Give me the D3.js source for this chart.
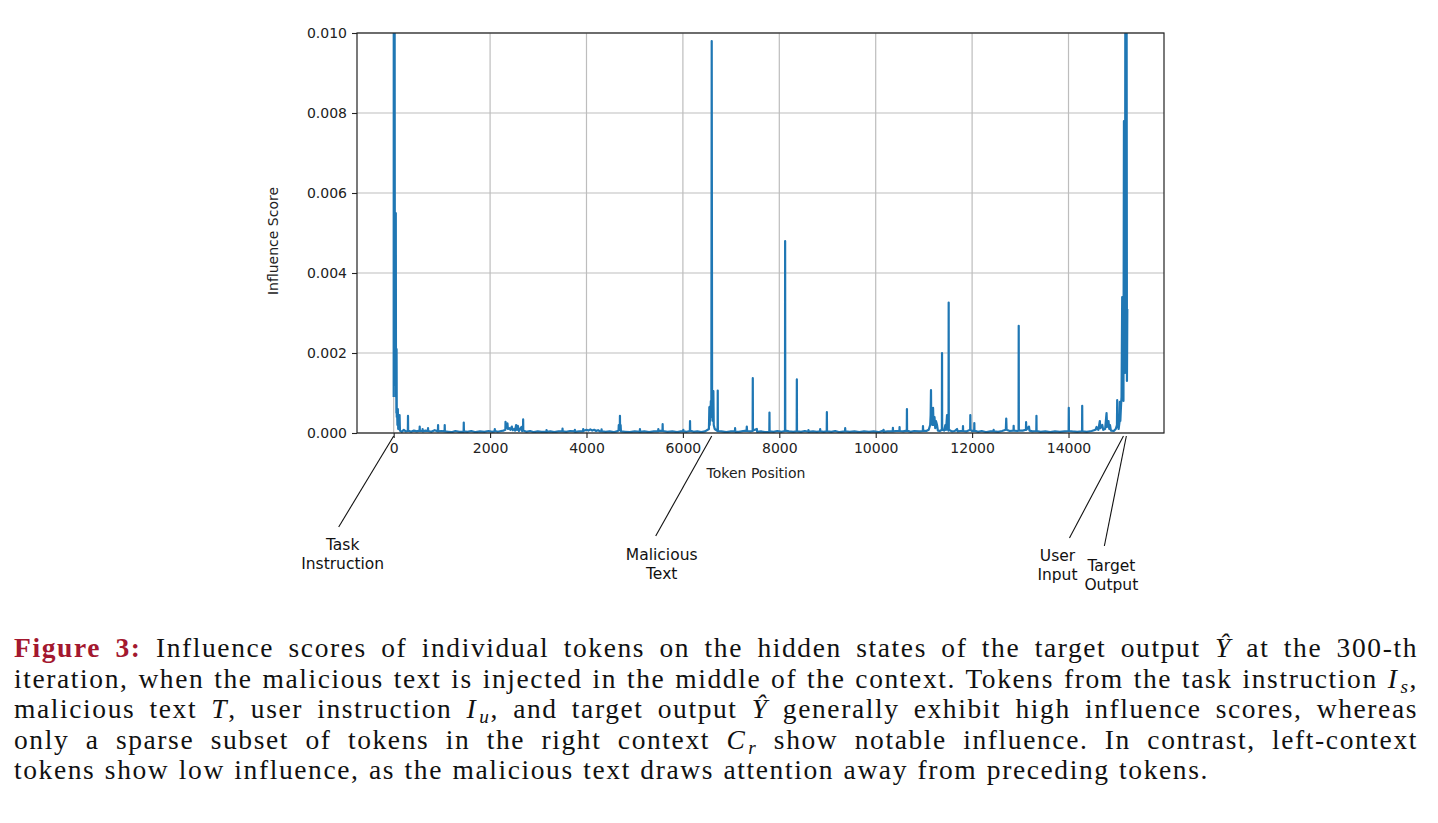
<!DOCTYPE html>
<html>
<head>
<meta charset="utf-8">
<script src="https://cdn.jsdelivr.net/npm/d3@7"></script>
<style>
  body { margin: 0; background: #fff; }
  #d3 { position: relative; width: 1438px; height: 823px; overflow: hidden; }
  #caption {
    position: absolute; left: 14px; top: 633px; width: 1404px;
    font-family: "Liberation Serif", "Times New Roman", serif;
    font-size: 27.5px; letter-spacing: 1.6px; word-spacing: 1px; color: #111;
  }
  #caption .line {
    height: 30.5px; line-height: 30.5px; white-space: nowrap;
    text-align: justify; text-align-last: justify;
  }
  #caption .line.last { text-align-last: left; }
  #caption .fig { color: #a3182f; font-weight: bold; }
  #caption .sub { font-size: 0.7em; font-style: italic; position: relative; top: 0.28em; margin-left: 2px; }
</style>
</head>
<body>
<div id="d3">
  <div id="caption">
    <div class="line"><span class="fig">Figure 3:</span> Influence scores of individual tokens on the hidden states of the target output <i>Ŷ</i> at the 300-th</div>
    <div class="line">iteration, when the malicious text is injected in the middle of the context. Tokens from the task instruction <i>I</i><span class="sub">s</span>,</div>
    <div class="line">malicious text <i>T</i>, user instruction <i>I</i><span class="sub">u</span>, and target output <i>Ŷ</i> generally exhibit high influence scores, whereas</div>
    <div class="line">only a sparse subset of tokens in the right context <i>C</i><span class="sub">r</span> show notable influence. In contrast, left-context</div>
    <div class="line last">tokens show low influence, as the malicious text draws attention away from preceding tokens.</div>
  </div>
</div>
<script>
// [token position, influence score]
const influenceSeries = [
    [0, 0.0009], [2, 0.0135], [5, 0.0042], [8, 0.0118], [11, 0.0031], [14, 0.0085], [17, 0.0026], [20, 0.0104],
    [24, 0.0036], [28, 0.0055], [32, 0.0018], [36, 0.0054], [40, 0.0012], [44, 0.0055], [48, 0.0009], [52, 0.0021],
    [56, 0.0005], [60, 0.0021], [64, 0.0004], [70, 0.0006], [78, 0.0002], [86, 0.0006], [94, 0.0001], [104, 0.0004],
    [112, 0.0001], [122, 0.00045], [130, 0.00006],
    [170, 0.00003], [210, 0.00008], [250, 0.00004],
    [294, 0.00005], [297, 0.00043], [300, 0.00006],
    [360, 0.00003], [420, 0.00006], [480, 0.00004],
    [537, 0.00006], [540, 0.00016], [543, 0.00005],
    [597, 0.00005], [600, 0.0001], [603, 0.00004],
    [660, 0.00006],
    [710, 0.00005], [713, 0.00012], [716, 0.00005],
    [780, 0.00003], [850, 0.00007],
    [918, 0.00004], [921, 0.0002], [924, 0.00004],
    [990, 0.00005],
    [1056, 0.00004], [1059, 0.0002], [1062, 0.00004],
    [1130, 0.00003], [1200, 0.00002], [1280, 0.00005], [1360, 0.00003],
    [1451, 0.00003], [1454, 0.00026], [1457, 0.00004],
    [1530, 0.00003], [1610, 0.00005], [1700, 0.00002], [1790, 0.00004], [1880, 0.00003], [1970, 0.00005], [2040, 0.00003],
    [2095, 0.00004], [2098, 0.0001], [2101, 0.00005],
    [2160, 0.00003], [2230, 0.00005], [2280, 0.00006],
    [2317, 0.00008], [2320, 0.00028], [2325, 0.00012], [2340, 0.0002], [2360, 0.00024], [2370, 0.0001], [2400, 0.00012],
    [2420, 0.00008], [2450, 0.00016], [2470, 0.00007], [2500, 0.0001], [2520, 0.00006], [2540, 0.0002], [2560, 0.00008],
    [2575, 0.00018], [2600, 0.00005], [2650, 0.00015], [2665, 0.00005], [2683, 0.00008], [2686, 0.00034], [2689, 0.00006],
    [2750, 0.00003], [2830, 0.00005], [2910, 0.00002], [2990, 0.00004], [3070, 0.00003],
    [3168, 0.00003], [3171, 0.00007], [3174, 0.00003],
    [3250, 0.00004], [3330, 0.00002], [3420, 0.00004],
    [3500, 0.00004], [3503, 0.00011], [3506, 0.00004],
    [3580, 0.00003], [3660, 0.00005],
    [3756, 0.00004], [3759, 0.00008], [3762, 0.00003],
    [3850, 0.00004],
    [3929, 0.00004], [3932, 0.0001], [3935, 0.00005],
    [4000, 0.00008], [4040, 0.00006], [4080, 0.00009], [4120, 0.00006], [4160, 0.00008], [4200, 0.00005], [4240, 0.00007], [4280, 0.00004],
    [4310, 0.00005], [4313, 0.00009], [4316, 0.00004],
    [4400, 0.00003], [4480, 0.00004], [4560, 0.00002], [4630, 0.00004],
    [4665, 0.00006], [4670, 0.0002], [4680, 0.00008], [4691, 0.0001], [4694, 0.00043], [4697, 0.0001], [4708, 0.0002], [4715, 0.00004],
    [4800, 0.00003], [4900, 0.00002], [5000, 0.00004],
    [5106, 0.00003], [5109, 0.0001], [5112, 0.00003],
    [5200, 0.00004], [5300, 0.00002], [5400, 0.00004],
    [5487, 0.00004], [5490, 0.0001], [5493, 0.00005],
    [5577, 0.00006], [5580, 0.00022], [5583, 0.00005],
    [5680, 0.00003], [5780, 0.00004], [5880, 0.00002], [5960, 0.00004],
    [6006, 0.00004], [6009, 0.00008], [6012, 0.00004],
    [6080, 0.00003],
    [6145, 0.00005], [6148, 0.0003], [6151, 0.00006],
    [6220, 0.00003], [6300, 0.00004], [6380, 0.00002], [6460, 0.00004],
    [6540, 0.0001], [6549, 0.00065], [6556, 0.0002], [6563, 0.00066], [6570, 0.0003], [6580, 0.0008], [6590, 0.0004],
    [6598, 0.0098], [6606, 0.0005], [6615, 0.0009], [6624, 0.0003], [6632, 0.00105], [6640, 0.0002], [6660, 0.0001],
    [6720, 0.00005], [6723, 0.00106], [6726, 0.00005],
    [6800, 0.00004], [6900, 0.00002], [7000, 0.00004],
    [7080, 0.00004], [7083, 0.00012], [7086, 0.00003],
    [7160, 0.00003], [7250, 0.00005],
    [7320, 0.00006], [7326, 0.00016], [7332, 0.00005],
    [7400, 0.00004],
    [7447, 0.00005], [7450, 0.00137], [7453, 0.00006],
    [7534, 0.0001], [7540, 0.00003],
    [7620, 0.00004], [7700, 0.00002],
    [7793, 0.00003], [7796, 0.00051], [7799, 0.00004],
    [7880, 0.00003], [7960, 0.00005], [8050, 0.00003],
    [8118, 0.00005], [8121, 0.0048], [8124, 0.00006],
    [8200, 0.00004], [8290, 0.00003],
    [8361, 0.00004], [8364, 0.00134], [8367, 0.00004],
    [8450, 0.00003], [8530, 0.00005],
    [8602, 0.00003], [8605, 0.00007], [8608, 0.00003],
    [8700, 0.00004], [8780, 0.00003],
    [8845, 0.00004], [8848, 0.0001], [8851, 0.00004],
    [8920, 0.00003],
    [8984, 0.00004], [8987, 0.00052], [8990, 0.00004],
    [9080, 0.00003], [9160, 0.00005], [9250, 0.00002],
    [9364, 0.00004], [9367, 0.00012], [9370, 0.00004],
    [9460, 0.00003], [9560, 0.00004], [9660, 0.00002], [9760, 0.00004], [9860, 0.00003], [9960, 0.00004], [10060, 0.00002],
    [10160, 0.00006], [10163, 0.00008], [10166, 0.00003],
    [10250, 0.00004],
    [10354, 0.00004], [10357, 0.00013], [10360, 0.00004],
    [10420, 0.00005],
    [10492, 0.00005], [10495, 0.00015], [10498, 0.00005],
    [10570, 0.00004],
    [10645, 0.00006], [10648, 0.0006], [10651, 0.00006],
    [10720, 0.00003], [10800, 0.00005], [10900, 0.00004],
    [10978, 0.00005], [10981, 0.00017], [10984, 0.00006],
    [11050, 0.00005], [11100, 0.00008],
    [11130, 0.0002], [11140, 0.00045], [11147, 0.00107], [11152, 0.0003], [11165, 0.0006], [11175, 0.0002], [11190, 0.00063],
    [11200, 0.0002], [11220, 0.0004], [11235, 0.00012], [11250, 0.0003], [11272, 0.0002], [11290, 0.00006],
    [11330, 0.00005],
    [11373, 0.00008], [11376, 0.002], [11379, 0.00008],
    [11420, 0.00006], [11445, 0.0002], [11460, 0.00008], [11480, 0.00045], [11490, 0.0001],
    [11511, 0.00006], [11514, 0.00326], [11517, 0.00008],
    [11580, 0.00004], [11640, 0.00005],
    [11687, 0.0001], [11700, 0.00004],
    [11760, 0.00005],
    [11808, 0.00005], [11811, 0.00017], [11814, 0.00005],
    [11880, 0.00004],
    [11960, 0.00008], [11963, 0.00045], [11966, 0.00008],
    [12000, 0.00005],
    [12043, 0.00006], [12046, 0.00025], [12049, 0.00006],
    [12120, 0.00003], [12200, 0.00005], [12300, 0.00002], [12380, 0.00004],
    [12444, 0.00004], [12447, 0.00008], [12450, 0.00004],
    [12540, 0.00003], [12620, 0.00005],
    [12700, 0.00008], [12708, 0.00036], [12716, 0.00008],
    [12780, 0.00005],
    [12859, 0.00006], [12862, 0.00018], [12865, 0.00006],
    [12940, 0.00005],
    [12964, 0.00006], [12967, 0.00268], [12970, 0.00006],
    [13050, 0.00006],
    [13117, 0.00008], [13120, 0.00027], [13124, 0.00008], [13150, 0.00012], [13180, 0.00016], [13190, 0.00006],
    [13250, 0.00004],
    [13332, 0.00005], [13335, 0.00043], [13338, 0.00005],
    [13420, 0.00003], [13520, 0.00004], [13620, 0.00002], [13720, 0.00004], [13820, 0.00003], [13920, 0.00004],
    [14003, 0.00005], [14006, 0.00063], [14009, 0.00005],
    [14080, 0.00004], [14180, 0.00003],
    [14281, 0.00004], [14284, 0.00068], [14287, 0.00004],
    [14380, 0.00003], [14480, 0.00005],
    [14560, 0.00008], [14581, 0.00015], [14600, 0.0001], [14620, 0.00008], [14650, 0.0003], [14660, 0.00012], [14700, 0.0002],
    [14720, 0.00008], [14760, 0.0001], [14789, 0.0005], [14800, 0.00015], [14830, 0.0003], [14845, 0.0001], [14860, 0.0002],
    [14880, 0.00006], [14940, 0.00005], [14980, 0.0001],
    [15005, 0.0002], [15010, 0.00082], [15020, 0.0002], [15040, 0.0001], [15060, 0.0003], [15065, 0.00078], [15075, 0.0003],
    [15090, 0.0007], [15100, 0.0009], [15114, 0.0034], [15120, 0.0012], [15130, 0.0031], [15140, 0.0008], [15150, 0.0078],
    [15158, 0.0026], [15165, 0.0078], [15172, 0.0015], [15180, 0.0128], [15186, 0.0043], [15192, 0.0146], [15198, 0.0031],
    [15205, 0.0112], [15212, 0.0013], [15220, 0.0031]
];

const xTicks = [0, 2000, 4000, 6000, 8000, 10000, 12000, 14000];
const yTicks = [0.000, 0.002, 0.004, 0.006, 0.008, 0.010];

const calloutTokens = [0, 6598, 15140, 15200];
const calloutLabels = [["Task", "Instruction"], ["Malicious", "Text"], ["User", "Input"], ["Target", "Output"]];

function drawChart() {
    const frame = { left: 357, right: 1164, top: 33, bottom: 433 };
    const tickFont = "DejaVu Sans, sans-serif";

    const svg = d3
        .select("#d3")
        .insert("svg", "#caption")
        .attr("width", 1438)
        .attr("height", 823)
        .style("position", "absolute")
        .style("left", 0)
        .style("top", 0);

    // matplotlib-style 5% margin around the data
    const lastToken = d3.max(influenceSeries, d => d[0]);
    const pad = lastToken * 0.05;

    const x = d3.scaleLinear()
        .domain([-pad, lastToken + pad])
        .range([frame.left, frame.right]);

    const y = d3.scaleLinear()
        .domain([0, 0.010])
        .range([frame.bottom, frame.top]);

    svg.append("defs")
        .append("clipPath")
        .attr("id", "plotclip")
        .append("rect")
        .attr("x", frame.left)
        .attr("y", frame.top)
        .attr("width", frame.right - frame.left)
        .attr("height", frame.bottom - frame.top);

    // grid
    const grid = svg.append("g").attr("id", "grid");
    grid.selectAll("line.gx")
        .data(xTicks)
        .join("line")
        .attr("class", "gx")
        .attr("x1", d => x(d)).attr("x2", d => x(d))
        .attr("y1", frame.top).attr("y2", frame.bottom);
    grid.selectAll("line.gy")
        .data(yTicks)
        .join("line")
        .attr("class", "gy")
        .attr("x1", frame.left).attr("x2", frame.right)
        .attr("y1", d => y(d)).attr("y2", d => y(d));
    grid.selectAll("line")
        .style("stroke", "#bdbdbd")
        .style("stroke-width", 1.2);

    const line = d3.line()
        .x(d => x(d[0]))
        .y(d => y(d[1]));

    svg.append("path")
        .datum(influenceSeries)
        .attr("clip-path", "url(#plotclip)")
        .attr("d", line)
        .style("fill", "none")
        .style("stroke", "#1f77b4")
        .style("stroke-width", 2.2)
        .style("stroke-linejoin", "round");

    // axes
    const xAxis = svg.append("g")
        .attr("transform", `translate(0, ${frame.bottom})`)
        .call(d3.axisBottom(x).tickValues(xTicks).tickSize(5).tickPadding(5).tickFormat(d3.format("d")));

    const yAxis = svg.append("g")
        .attr("transform", `translate(${frame.left}, 0)`)
        .call(d3.axisLeft(y).tickValues(yTicks).tickSize(5).tickPadding(5).tickFormat(d3.format(".3f")));

    [xAxis, yAxis].forEach(a => {
        a.select(".domain").remove();
        a.selectAll(".tick line").style("stroke", "#222").style("stroke-width", 1.1);
        a.selectAll(".tick text")
            .style("font-family", tickFont)
            .style("font-size", "14px")
            .style("fill", "#222");
    });

    svg.append("rect")
        .attr("x", frame.left)
        .attr("y", frame.top)
        .attr("width", frame.right - frame.left)
        .attr("height", frame.bottom - frame.top)
        .style("fill", "none")
        .style("stroke", "#222")
        .style("stroke-width", 1.2);

    svg.append("text")
        .attr("x", 756)
        .attr("y", 478)
        .attr("text-anchor", "middle")
        .style("font-family", tickFont)
        .style("font-size", "14px")
        .style("fill", "#222")
        .text("Token Position");

    svg.append("text")
        .attr("transform", "translate(278, 241) rotate(-90)")
        .attr("text-anchor", "middle")
        .style("font-family", tickFont)
        .style("font-size", "14px")
        .style("fill", "#222")
        .text("Influence Score");

    // callouts under the axis
    const legOffsets = [[-55, 91], [-56, 100], [-54, 102], [-22, 110]];
    const textOffsets = [[4, 23], [6, 24], [-12, 23], [7, 25]];

    calloutTokens.forEach((tok, i) => {
        const x0 = x(tok);
        const y0 = frame.bottom + 3;
        const x1 = x0 + legOffsets[i][0];
        const y1 = y0 + legOffsets[i][1];

        svg.append("line")
            .attr("x1", x0).attr("y1", y0)
            .attr("x2", x1).attr("y2", y1)
            .style("stroke", "#111")
            .style("stroke-width", 1.1);

        const label = svg.append("text")
            .attr("text-anchor", "middle")
            .style("font-family", "'Comic Sans MS', 'DejaVu Sans', sans-serif")
            .style("font-size", "15.5px")
            .style("fill", "#111");

        calloutLabels[i].forEach((word, j) => {
            label.append("tspan")
                .attr("x", x1 + textOffsets[i][0])
                .attr("y", y1 + textOffsets[i][1] + j * 18.5)
                .text(word);
        });
    });
}

drawChart();
</script>
</body>
</html>
